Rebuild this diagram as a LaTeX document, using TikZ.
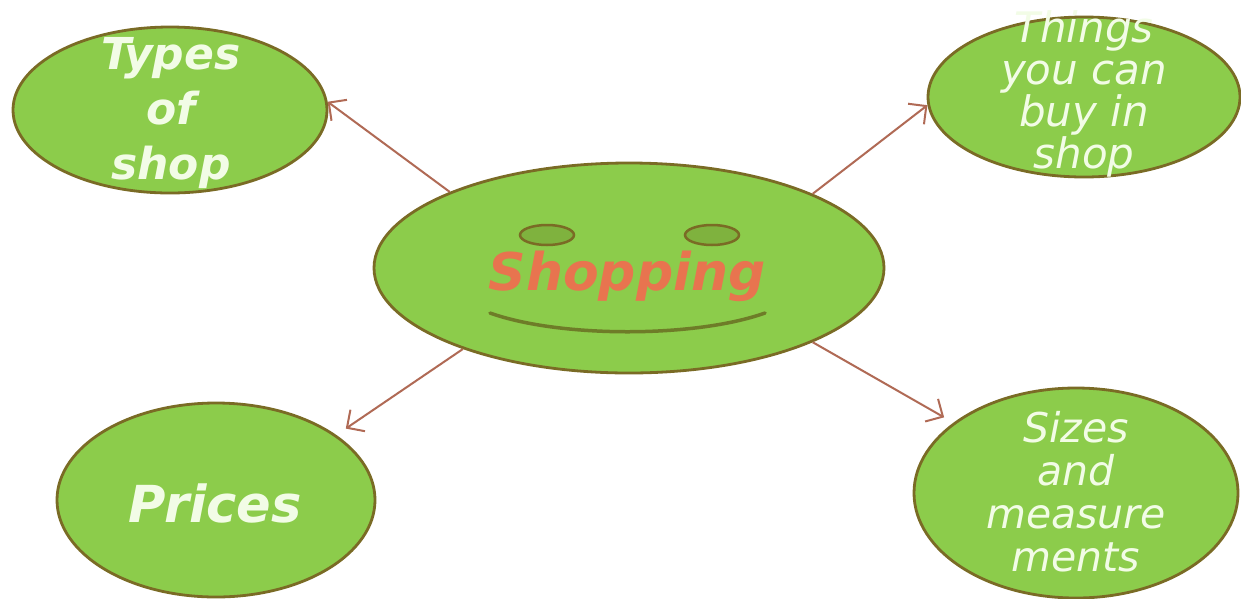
\documentclass[tikz,border=0pt]{standalone}
\usepackage{fontspec}
\setmainfont{DejaVu Sans}[ItalicFont={DejaVu Sans Oblique},BoldFont={DejaVu Sans Bold},BoldItalicFont={DejaVu Sans Bold Oblique}]
\usepackage{tikz}
\usetikzlibrary{arrows.meta,shapes.geometric}
\usepackage{xcolor}
\definecolor{shopgreen}{HTML}{8CCC4B}
\definecolor{shopolive}{HTML}{7A6B25}
\definecolor{shopsmile}{HTML}{6E7C28}
\definecolor{shopeye}{HTML}{7FB23E}
\definecolor{shoporange}{HTML}{E8744F}
\definecolor{shoparrow}{HTML}{B06A55}
\definecolor{shoptext}{HTML}{F2FCE6}

\begin{document}
\begin{tikzpicture}[x=1pt, y=-1pt,
  blob/.style={ellipse, draw=shopolive, line width=2.8pt, fill=shopgreen, inner sep=0pt},
  eye/.style={ellipse, draw=shopolive, line width=2.5pt, fill=shopeye, inner sep=0pt, minimum width=54pt, minimum height=20pt},
  label/.style={text=shoptext, align=center, inner sep=0pt},
  arr/.style={-{Straight Barb[length=13pt,width=26pt]}, line width=2pt, draw=shoparrow}
]
  \useasboundingbox (0,0) rectangle (1241,598);
  \fill[white] (0,0) rectangle (1241,598);

  \node[blob, minimum width=510pt, minimum height=210pt] (shop) at (629,268) {};
  \node[blob, minimum width=314pt, minimum height=166pt] (types) at (170,110) {};
  \node[blob, minimum width=312pt, minimum height=160pt] (things) at (1084,97) {};
  \node[blob, minimum width=318pt, minimum height=194pt] (prices) at (216,500) {};
  \node[blob, minimum width=324pt, minimum height=210pt] (sizes) at (1076,493) {};

  % face
  \node[eye] (eyeL) at (547,235) {};
  \node[eye] (eyeR) at (712,235) {};
  \draw[shopsmile, line width=3.5pt, line cap=round] (490,313) .. controls (560,338) and (695,338) .. (765,313);

  \node[label, text=shoporange, font=\fontsize{52}{60}\selectfont\bfseries\itshape] (shop-txt) at (627,276) {Shopping};
  \node[label, font=\fontsize{44}{55}\selectfont\bfseries\itshape] (types-txt) at (171,113) {Types\\of\\shop};
  \node[label, font=\fontsize{42}{42}\selectfont\itshape] (things-txt) at (1084,94) {Things\\you can\\buy in\\shop};
  \node[label, font=\fontsize{51}{56}\selectfont\bfseries\itshape] (prices-txt) at (215,503) {Prices};
  \node[label, font=\fontsize{41}{43}\selectfont\itshape] (sizes-txt) at (1076,492) {Sizes\\and\\measure\\ments};

  \draw[arr] (shop.157) -- (types.3);
  \draw[arr] (shop.22) -- (things.183);
  \draw[arr] (shop.206) -- ([shift={(13pt,4pt)}]prices.30);
  \draw[arr] (shop.-22) -- ([shift={(-14pt,2pt)}]sizes.148);
\end{tikzpicture}
\end{document}
